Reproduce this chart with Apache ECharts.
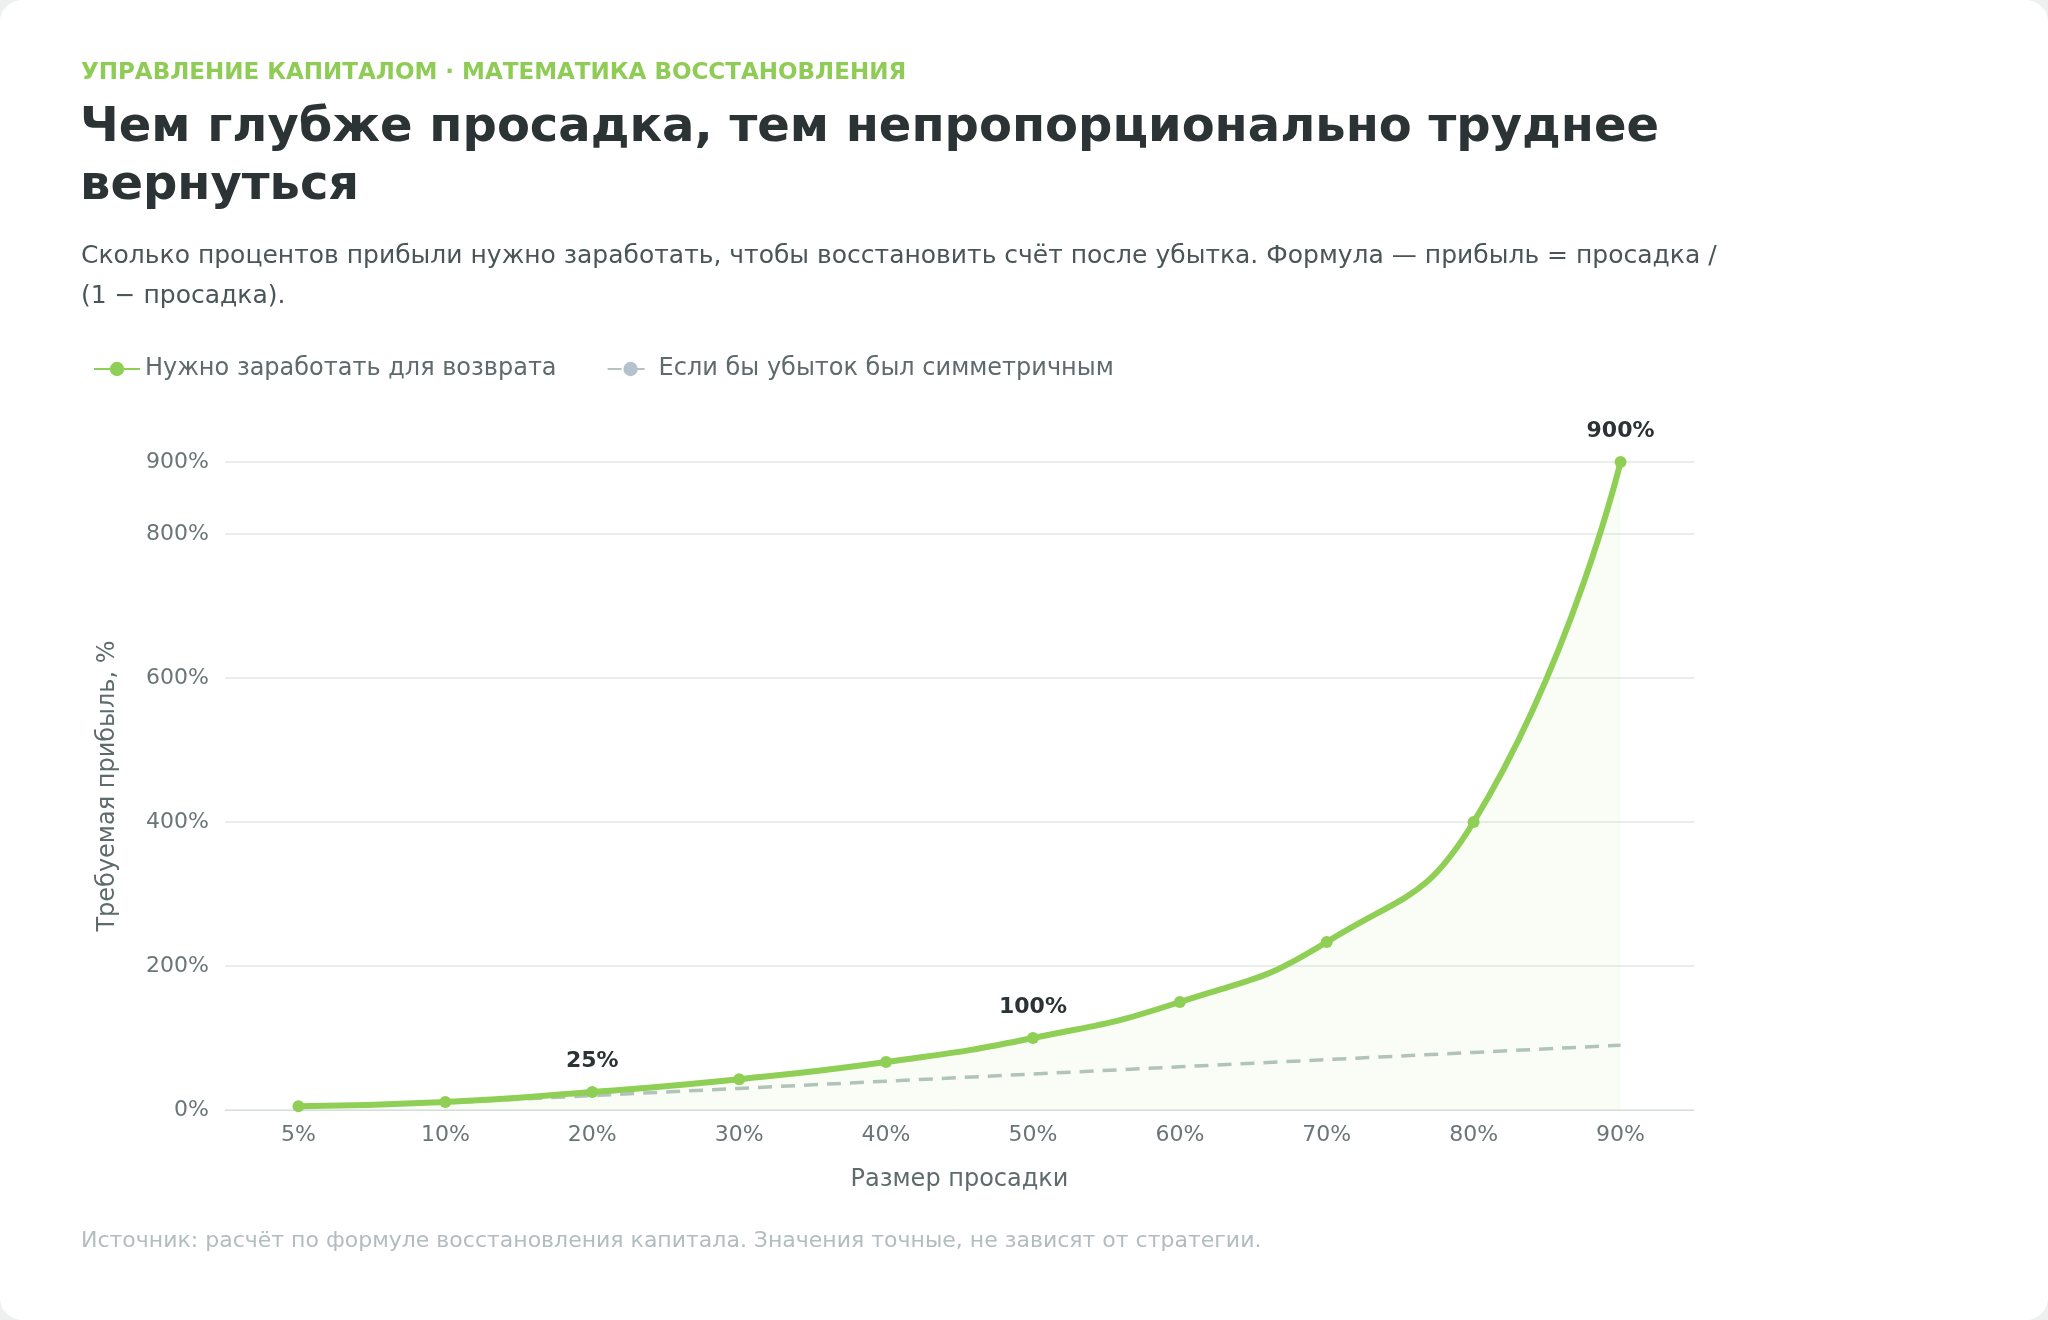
<!DOCTYPE html>
<html><head><meta charset="utf-8">
<script src="https://cdn.jsdelivr.net/npm/echarts@6/dist/echarts.min.js"></script>
<style>
html,body{margin:0;padding:0;background:#eef0f0;}
#card{position:absolute;left:0;top:0;width:2048px;height:1320px;background:#fff;border-radius:22px;}
#chart{width:2048px;height:1320px;}
</style></head>
<body><div id="card"><div id="chart"></div></div>
<script>
var categories = ['5%', '10%', '20%', '30%', '40%', '50%', '60%', '70%', '80%', '90%'];
var required = [5.26, 11.11, 25, 42.86, 66.67, 100, 150, 233.33, 400, 900];
var symmetric = [5, 10, 20, 30, 40, 50, 60, 70, 80, 90];
var labelled = ['20%', '50%', '90%'];

var font = 'DejaVu Sans';
var chart = echarts.init(document.getElementById('chart'));
chart.setOption({
    textStyle: { fontFamily: font },
    graphic: [
        { type: 'text', left: 81, top: 62, style: { text: 'УПРАВЛЕНИЕ КАПИТАЛОМ · МАТЕМАТИКА ВОССТАНОВЛЕНИЯ', fill: '#8fcc55', font: 'bold 23px DejaVu Sans' } },
        { type: 'text', left: 80, top: 100, style: { text: 'Чем глубже просадка, тем непропорционально труднее\nвернуться', fill: '#2b3335', font: 'bold 48px DejaVu Sans', lineHeight: 58 } },
        { type: 'text', left: 81, top: 236, style: { text: 'Сколько процентов прибыли нужно заработать, чтобы восстановить счёт после убытка. Формула — прибыль = просадка /\n(1 − просадка).', fill: '#4a5558', font: '25px DejaVu Sans', lineHeight: 40 } },
        { type: 'text', left: 81, top: 1230, style: { text: 'Источник: расчёт по формуле восстановления капитала. Значения точные, не зависят от стратегии.', fill: '#b3bcbf', font: '22px DejaVu Sans' } }
    ],
    legend: {
        left: 88, top: 352, itemWidth: 46, itemHeight: 18, itemGap: 50,
        textStyle: { color: '#5f6a6d', fontSize: 24, fontFamily: font },
        data: ['Нужно заработать для возврата', 'Если бы убыток был симметричным']
    },
    grid: { left: 225, right: 354, top: 462, bottom: 210 },
    xAxis: {
        type: 'category', data: categories, boundaryGap: true,
        name: 'Размер просадки', nameLocation: 'middle', nameGap: 58,
        nameTextStyle: { color: '#5f6a6d', fontSize: 24 },
        axisLine: { lineStyle: { color: '#d6dcdd' } },
        axisTick: { show: false },
        axisLabel: { color: '#6b7578', fontSize: 22, margin: 14 }
    },
    yAxis: {
        type: 'value', min: 0, max: 900, interval: 200,
        name: 'Требуемая прибыль, %', nameLocation: 'middle', nameGap: 105,
        nameTextStyle: { color: '#5f6a6d', fontSize: 24 },
        axisLabel: { formatter: '{value}%', color: '#6b7578', fontSize: 22, margin: 16, showMaxLabel: true },
        splitLine: { lineStyle: { color: '#e3e7e8', width: 1.5 } }
    },
    series: [{
        name: 'Нужно заработать для возврата', type: 'line', data: required, smooth: true,
        symbol: 'circle', symbolSize: 12, z: 3,
        lineStyle: { color: '#8fcf55', width: 6 },
        itemStyle: { color: '#8fcf55' },
        areaStyle: { color: 'rgba(143,207,85,0.07)' },
        label: {
            show: true, position: 'top', distance: 14, color: '#2b3335', fontSize: 22, fontWeight: 'bold',
            formatter: function (p) { return labelled.indexOf(p.name) >= 0 ? Math.round(p.value) + '%' : ''; }
        }
    }, {
        name: 'Если бы убыток был симметричным', type: 'line', data: symmetric,
        symbol: 'none', z: 2,
        lineStyle: { color: '#b4c2c0', width: 3.5, type: [14, 9] },
        itemStyle: { color: '#b4c2cc' }
    }]
});
</script>
</body></html>
